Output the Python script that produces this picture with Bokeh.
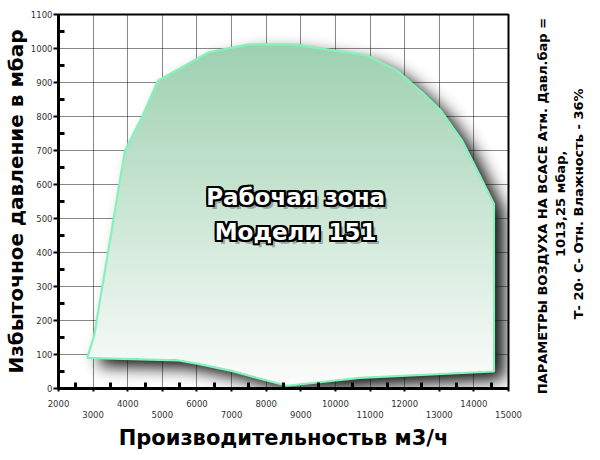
import numpy as np
from bokeh.plotting import figure
from bokeh.layouts import row
from bokeh.models import Range1d, FixedTicker, LinearAxis, Grid, ColumnDataSource
from bokeh.core.properties import value
from bokeh.embed import file_html
from bokeh.resources import INLINE

# ---- data ----
x_upper = [2830, 3030, 3920, 4420, 4870, 6340, 7490, 8800, 10920, 11780, 12500, 13040, 13660, 14000, 14580]
y_upper = [90, 155, 700, 800, 905, 989, 1012, 1012, 979, 935, 871, 818, 729, 661, 543]
x_lower = [2830, 5430, 6000, 7000, 7850, 8600, 10700, 14580]
y_lower = [90, 83, 73, 52, 28, 8, 31, 50]

x_ticks = list(range(2000, 15001, 1000))
x_minor = list(range(2500, 15000, 1000))
y_ticks = list(range(0, 1101, 100))
y_minor = list(range(50, 1100, 100))

zone_lines = ["Рабочая зона", "Модели 151"]
x_title = "Производительностьв м3/ч"
y_title = "Избыточное давление в мбар"
note_lines = ["ПАРАМЕТРЫ ВОЗДУХА НА ВСАСЕ  Атм. Давл.бар =",
              "1013,25 мбар,",
              "Т- 20· С- Отн. Влажность - 36%"]

X0, X1, Y0, Y1 = 2000, 15000, 0, 1100

# polygon built from the two boundaries
poly_x = np.array(x_upper + x_lower[::-1][:-1], dtype=float)
poly_y = np.array(y_upper + y_lower[::-1][:-1], dtype=float)

p = figure(frame_width=450, frame_height=374, output_backend="svg", toolbar_location=None,
           x_range=Range1d(X0, X1), y_range=Range1d(Y0, Y1),
           x_axis_type=None, y_axis_type=None,
           min_border_left=58, min_border_right=16, min_border_top=14, min_border_bottom=60)
p.background_fill_color = "white"
p.border_fill_color = "white"
p.outline_line_color = "black"
p.outline_line_width = 2

# ---- rasterise polygon for gradient fill and soft shadow ----
nx, ny = 900, 748
gx = X0 + (np.arange(nx) + 0.5) * (X1 - X0) / nx
gy = Y0 + (np.arange(ny) + 0.5) * (Y1 - Y0) / ny
GX, GY = np.meshgrid(gx, gy)
inside = np.zeros(GX.shape, dtype=bool)
n = len(poly_x)
with np.errstate(divide="ignore", invalid="ignore"):
    for i in range(n):
        xi, yi = poly_x[i], poly_y[i]
        xj, yj = poly_x[i - 1], poly_y[i - 1]
        if yi == yj:
            continue
        cond = ((yi > GY) != (yj > GY)) & (GX < (xj - xi) * (GY - yi) / (yj - yi) + xi)
        inside ^= cond
mask = inside.astype(float)

# shadow: offset right/down and blurred
sdx, sdy, sig = 20, 16, 16  # in raster px (2 per screen px)
sh = np.zeros_like(mask)
sh[:ny - sdy, sdx:] = mask[sdy:, :nx - sdx]
k = np.arange(-3 * sig, 3 * sig + 1)
kern = np.exp(-0.5 * (k / sig) ** 2)
kern /= kern.sum()
sh = np.apply_along_axis(lambda r: np.convolve(r, kern, mode="same"), 1, sh)
sh = np.apply_along_axis(lambda c: np.convolve(c, kern, mode="same"), 0, sh)
shadow = np.zeros((ny, nx), dtype=np.uint32)
sv = shadow.view(dtype=np.uint8).reshape((ny, nx, 4))
sv[:, :, 3] = np.clip(sh * 0.95 * 255, 0, 255).astype(np.uint8)
p.image_rgba(image=[shadow], x=X0, y=Y0, dw=X1 - X0, dh=Y1 - Y0, level="image")

# grid
p.add_layout(Grid(dimension=0, ticker=FixedTicker(ticks=x_ticks[1:-1]),
                  grid_line_color="#111111", grid_line_dash="1 1", grid_line_width=1))
p.add_layout(Grid(dimension=1, ticker=FixedTicker(ticks=y_ticks[1:-1]),
                  grid_line_color="#111111", grid_line_dash="1 1", grid_line_width=1))

# gradient fill
top_c = np.array([158, 209, 176], dtype=float)
bot_c = np.array([252, 253, 252], dtype=float)
t = np.clip((GY - min(y_lower)) / (max(y_upper) - min(y_lower)), 0, 1)[..., None]
col = bot_c + (top_c - bot_c) * t
fill = np.zeros((ny, nx), dtype=np.uint32)
fv = fill.view(dtype=np.uint8).reshape((ny, nx, 4))
fv[:, :, :3] = col.astype(np.uint8)
fv[:, :, 3] = (mask * 255).astype(np.uint8)
p.image_rgba(image=[fill], x=X0, y=Y0, dw=X1 - X0, dh=Y1 - Y0)

p.patch(poly_x, poly_y, fill_color=None, line_color="#86f2bb", line_width=2.2)

# ---- axes ----
ax_y = LinearAxis(ticker=FixedTicker(ticks=y_ticks, minor_ticks=y_minor),
                  axis_label=y_title)
ax_y.axis_line_width = 3
ax_y.major_tick_out = 5
ax_y.major_tick_in = 0
ax_y.major_tick_line_width = 2
ax_y.minor_tick_in = 6
ax_y.minor_tick_out = 0
ax_y.minor_tick_line_width = 3
ax_y.major_label_standoff = 1
ax_y.major_label_text_font = "DejaVu Sans"
ax_y.major_label_text_font_size = "8.5px"
ax_y.major_label_text_color = "#333333"
ax_y.axis_label_text_font = "DejaVu Sans"
ax_y.axis_label_text_font_style = "bold"
ax_y.axis_label_text_font_size = "20px"
ax_y.axis_label_text_color = "black"
ax_y.axis_label_standoff = 0
p.add_layout(ax_y, "left")

even_over = {v: ("" if (v // 1000) % 2 else str(v)) for v in x_ticks}
ax_x1 = LinearAxis(ticker=FixedTicker(ticks=x_ticks, minor_ticks=x_minor),
                   major_label_overrides=even_over)
ax_x1.axis_line_width = 3
ax_x1.major_tick_out = 3
ax_x1.major_tick_in = 0
ax_x1.major_tick_line_width = 2
ax_x1.minor_tick_in = 6
ax_x1.minor_tick_out = 0
ax_x1.minor_tick_line_width = 3
ax_x1.major_label_standoff = 8
ax_x1.major_label_text_font = "DejaVu Sans"
ax_x1.major_label_text_font_size = "8.5px"
ax_x1.major_label_text_color = "#333333"
p.add_layout(ax_x1, "below")

odd_ticks = [v for v in x_ticks if (v // 1000) % 2]
ax_x2 = LinearAxis(ticker=FixedTicker(ticks=odd_ticks, minor_ticks=[]), axis_label=x_title)
ax_x2.axis_line_color = None
ax_x2.major_tick_line_color = None
ax_x2.minor_tick_line_color = None
ax_x2.major_tick_out = 0
ax_x2.major_tick_in = 0
ax_x2.major_label_standoff = 1
ax_x2.major_label_text_font = "DejaVu Sans"
ax_x2.major_label_text_font_size = "8.5px"
ax_x2.major_label_text_color = "#333333"
ax_x2.axis_label_text_font = "DejaVu Sans"
ax_x2.axis_label_text_font_style = "bold"
ax_x2.axis_label_text_font_size = "21px"
ax_x2.axis_label_text_color = "black"
ax_x2.axis_label_standoff = 5
p.add_layout(ax_x2, "below")

# ---- central outlined label ----
zone_x = 8850
zone_y = [562, 459]
src = ColumnDataSource(dict(x=[zone_x] * 2, y=zone_y, t=zone_lines))
txt_kw = dict(x="x", y="y", text="t", source=src, text_font=value("DejaVu Sans"),
              text_font_style="bold", text_font_size="23px",
              text_align="center", text_baseline="middle")
p.text(x_offset=4, y_offset=4, text_color="#666666", text_alpha=0.5, **txt_kw)
for dx, dy in [(-2, -2), (0, -2), (2, -2), (-2, 0), (2, 0), (-2, 2), (0, 2), (2, 2)]:
    p.text(x_offset=dx, y_offset=dy, text_color="black", **txt_kw)
p.text(text_color="white", **txt_kw)

# ---- right-hand note panel ----
q = figure(width=76, height=460, output_backend="svg", toolbar_location=None,
           x_range=Range1d(0, 76), y_range=Range1d(0, 460),
           x_axis_type=None, y_axis_type=None, min_border=0)
q.outline_line_color = None
q.background_fill_color = "white"
q.border_fill_color = "white"
q.grid.visible = False
note_x = [18, 36, 54]
note_y = [232, 232, 232]
q.text(x=note_x, y=note_y, text=note_lines, angle=np.pi / 2,
       text_align="center", text_baseline="middle",
       text_font=value("DejaVu Sans"), text_font_style="bold",
       text_font_size="13px", text_color="black")

layout = row(p, q, spacing=0)
open("out.html", "w").write(file_html(layout, INLINE))
